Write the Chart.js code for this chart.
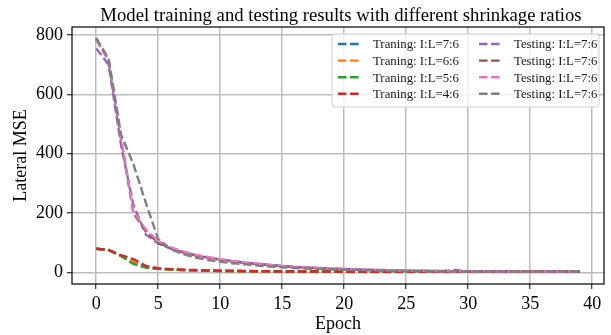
<!DOCTYPE html>
<html>
<head>
<meta charset="utf-8">
<script src="https://cdn.jsdelivr.net/npm/chart.js@4/dist/chart.umd.min.js"></script>
<style>
  html, body { margin: 0; padding: 0; background: #fff; }
  #wrap { width: 611px; height: 335px; }
</style>
</head>
<body>
<div id="wrap"><canvas id="lossChart" width="611" height="335"></canvas></div>
<script>
// epochs 0..39
const epochs = [0,1,2,3,4,5,6,7,8,9,10,11,12,13,14,15,16,17,18,19,20,21,22,23,24,25,26,27,28,29,30,31,32,33,34,35,36,37,38,39];

const seriesLabels = [
    'Traning: I:L=7:6', 'Traning: I:L=6:6', 'Traning: I:L=5:6', 'Traning: I:L=4:6',
    'Testing: I:L=7:6', 'Testing: I:L=7:6', 'Testing: I:L=7:6', 'Testing: I:L=7:6'
];
const seriesColors = ['#1f77b4', '#ff7f0e', '#2ca02c', '#d62728', '#9467bd', '#8c564b', '#e377c2', '#7f7f7f'];

const trainBlue   = [80, 75, 56, 32, 17, 12, 10, 8, 7, 6, 5, 5, 4, 4, 4, 3, 3, 3, 3, 3, 2, 2, 2, 2, 2, 2, 2, 2, 2, 2, 2, 2, 2, 2, 2, 2, 2, 2, 2, 2];
const trainOrange = [80, 76, 57, 36, 18, 13, 10, 8, 7, 6, 5, 5, 4, 4, 4, 3, 3, 3, 3, 3, 2, 2, 2, 2, 2, 2, 2, 2, 2, 2, 2, 2, 2, 2, 2, 2, 2, 2, 2, 2];
const trainGreen  = [80, 75, 55, 29, 16, 12, 10, 8, 7, 6, 5, 5, 4, 4, 4, 3, 3, 3, 3, 3, 2, 2, 2, 2, 2, 2, 2, 2, 2, 2, 2, 2, 2, 2, 2, 2, 2, 2, 2, 2];
const trainRed    = [80, 76, 58, 45, 22, 14, 11, 9, 8, 7, 6, 5, 5, 4, 4, 3, 3, 3, 3, 3, 2, 2, 2, 2, 2, 2, 2, 2, 2, 2, 2, 2, 2, 2, 2, 2, 2, 2, 2, 2];

const testPurple = [755, 700, 430, 228, 128, 98, 80, 68, 58, 50, 44, 38, 33, 29, 25, 22, 19, 17, 15, 13, 12, 10, 9, 8, 7, 6, 6, 5, 5, 8, 4, 4, 4, 3, 3, 3, 3, 3, 3, 3];
const testBrown  = [785, 715, 450, 200, 138, 100, 82, 68, 58, 50, 43, 37, 32, 28, 24, 21, 18, 16, 14, 12, 11, 9, 8, 7, 6, 6, 5, 5, 4, 4, 4, 4, 3, 3, 3, 3, 3, 3, 3, 3];
const testPink   = [785, 715, 455, 205, 145, 106, 85, 71, 60, 52, 45, 39, 34, 30, 26, 22, 19, 17, 15, 13, 12, 10, 9, 8, 7, 6, 6, 5, 5, 4, 4, 4, 3, 3, 3, 3, 3, 3, 3, 3];
const testGray   = [790, 720, 465, 365, 235, 112, 78, 62, 50, 42, 36, 31, 27, 23, 20, 17, 15, 13, 11, 10, 9, 8, 7, 6, 5, 5, 4, 4, 4, 3, 3, 3, 3, 3, 3, 3, 3, 3, 3, 3];

const allSeries = [trainBlue, trainOrange, trainGreen, trainRed, testPurple, testBrown, testPink, testGray];

const xTicks = [0, 5, 10, 15, 20, 25, 30, 35, 40];
const yTicks = [0, 200, 400, 600, 800];

const serif = "'Liberation Serif', 'DejaVu Serif', serif";

// frame + title + legend box drawn on the canvas
const framePlugin = {
    id: 'frame',
    afterDraw(chart) {
        const { ctx, chartArea: a } = chart;
        ctx.save();
        ctx.strokeStyle = '#000';
        ctx.lineWidth = 1.2;
        ctx.strokeRect(a.left, a.top, a.right - a.left, a.bottom - a.top);

        ctx.fillStyle = '#000';
        ctx.font = "18.7px " + serif;
        ctx.textAlign = 'center';
        ctx.textBaseline = 'alphabetic';
        ctx.fillText('Model training and testing results with different shrinkage ratios', (a.left + a.right) / 2 + 3, 20.5);

        // legend, two columns
        const bx = a.right - 272, by = a.top + 7, bw = 267, bh = 73;
        ctx.fillStyle = 'rgba(255,255,255,0.8)';
        ctx.strokeStyle = '#d0d0d0';
        ctx.lineWidth = 1;
        ctx.beginPath();
        ctx.roundRect(bx, by, bw, bh, 3);
        ctx.fill();
        ctx.stroke();

        ctx.font = "12.8px " + serif;
        ctx.textAlign = 'left';
        ctx.textBaseline = 'middle';
        chart.data.datasets.forEach((ds, i) => {
            const col = Math.floor(i / 4), row = i % 4;
            const hx = bx + 6 + col * 141;
            const hy = by + 10 + row * 16.6;
            ctx.strokeStyle = ds.borderColor;
            ctx.lineWidth = 2.4;
            ctx.setLineDash([8.5, 3.6]);
            ctx.beginPath();
            ctx.moveTo(hx, hy);
            ctx.lineTo(hx + 22, hy);
            ctx.stroke();
            ctx.setLineDash([]);
            ctx.fillStyle = '#1a1a1a';
            ctx.fillText(ds.label, hx + 35, hy + 1);
        });
        ctx.restore();
    }
};

const datasets = allSeries.map((vals, i) => ({
    label: seriesLabels[i],
    data: vals.map((v, k) => ({ x: epochs[k], y: v })),
    borderColor: seriesColors[i],
    backgroundColor: seriesColors[i],
    borderWidth: 2.4,
    borderDash: [8.5, 3.6],
    pointRadius: 0,
    tension: 0,
    fill: false,
    order: allSeries.length - i
}));

new Chart(document.getElementById('lossChart'), {
    type: 'line',
    data: { datasets: datasets },
    options: {
        responsive: false,
        animation: false,
        layout: { padding: { top: 27, right: 7, bottom: 0, left: 0 } },
        plugins: {
            legend: { display: false },
            title: { display: false },
            tooltip: { enabled: false }
        },
        scales: {
            x: {
                type: 'linear',
                min: -1.95,
                max: 40.95,
                afterFit: (s) => { s.height = 51; },
                afterBuildTicks: (s) => { s.ticks = xTicks.map(v => ({ value: v })); },
                ticks: { includeBounds: false, color: '#000', padding: 4, maxRotation: 0, font: { family: serif, size: 18 } },
                grid: { color: '#bdbdbd', lineWidth: 1.5, tickColor: '#000', tickWidth: 1, tickLength: 5 },
                border: { display: false },
                title: { display: true, text: 'Epoch', color: '#000', padding: { top: 0, bottom: 0 }, font: { family: serif, size: 18 } }
            },
            y: {
                type: 'linear',
                min: -39,
                max: 827,
                afterFit: (s) => { s.width = 72; },
                afterBuildTicks: (s) => { s.ticks = yTicks.map(v => ({ value: v })); },
                ticks: { includeBounds: false, color: '#000', padding: 4, font: { family: serif, size: 18 } },
                grid: { color: '#bdbdbd', lineWidth: 1.5, tickColor: '#000', tickWidth: 1, tickLength: 5 },
                border: { display: false },
                title: { display: true, text: 'Lateral MSE', color: '#000', padding: { top: 10, bottom: 0 }, font: { family: serif, size: 18 } }
            }
        }
    },
    plugins: [framePlugin]
});
</script>
</body>
</html>
